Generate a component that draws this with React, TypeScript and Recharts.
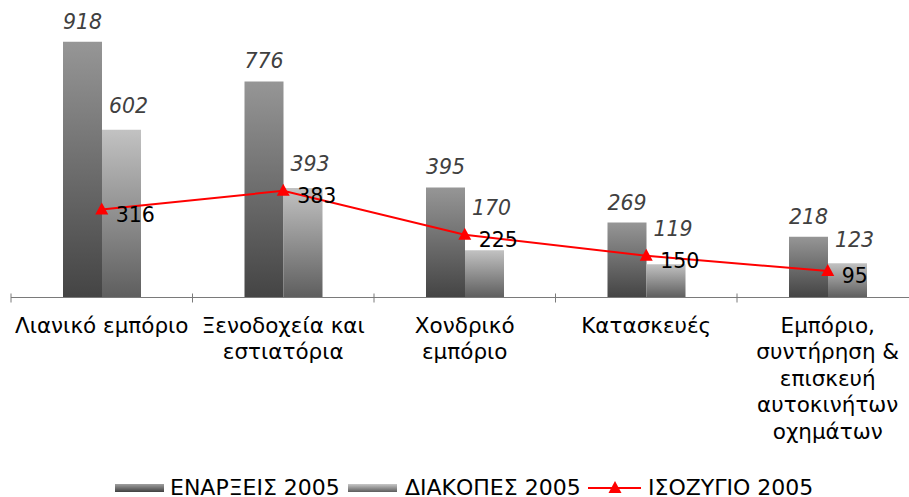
import React from 'react';
import { ComposedChart, Bar, Line, XAxis, YAxis, LabelList, Legend } from 'recharts';

const categories = [
  'Λιανικό εμπόριο',
  'Ξενοδοχεία και εστιατόρια',
  'Χονδρικό εμπόριο',
  'Κατασκευές',
  'Εμπόριο, συντήρηση & επισκευή αυτοκινήτων οχημάτων',
];
const categoryLines = [
  ['Λιανικό εμπόριο'],
  ['Ξενοδοχεία και', 'εστιατόρια'],
  ['Χονδρικό', 'εμπόριο'],
  ['Κατασκευές'],
  ['Εμπόριο,', 'συντήρηση &', 'επισκευή', 'αυτοκινήτων', 'οχημάτων'],
];
const enarxeis = [918, 776, 395, 269, 218];
const diakopes = [602, 393, 170, 119, 123];
const isozygio = [316, 383, 225, 150, 95];
const seriesNames = ['ΕΝΑΡΞΕΙΣ 2005', 'ΔΙΑΚΟΠΕΣ 2005', 'ΙΣΟΖΥΓΙΟ 2005'];

const data = categories.map((c, i) => ({
  name: c,
  enarxeis: enarxeis[i],
  diakopes: diakopes[i],
  isozygio: isozygio[i],
}));

const FONT = '"DejaVu Sans", Verdana, sans-serif';
const CHART_W = 920;
const CHART_H = 497;
const M_LEFT = 11;
const M_RIGHT = 1.5;
const BAND = (CHART_W - M_LEFT - M_RIGHT) / categories.length;
const AXIS_COLOR = '#7a7a7a';
const NUM_SIZE = 20.5;

const Triangle = (props: any) => {
  const { cx, cy } = props;
  if (cx == null || cy == null) return null;
  return (
    <polygon
      points={`${cx},${cy - 7} ${cx - 6.5},${cy + 5} ${cx + 6.5},${cy + 5}`}
      fill="#FF0000"
      stroke="none"
    />
  );
};

// Label for the second bar series: sits above its bar, but is lifted
// above the balance line's point when that point would collide with it.
const DiakopesLabel = (props: any) => {
  const { x, y, width, height, value, index } = props;
  if (x == null || y == null || !value) return null;
  const base = y + height;
  const pxPerUnit = height / value;
  const lineY = base - isozygio[index] * pxPerUnit;
  const center = Math.min(y - 24, lineY - 27);
  return (
    <text
      x={x + width / 2 + 7}
      y={center + 7.5}
      textAnchor="middle"
      fontFamily={FONT}
      fontSize={NUM_SIZE}
      fontStyle="italic"
      fill="#404040"
    >
      {value}
    </text>
  );
};

const CategoryTick = (props: any) => {
  const { x, y, payload, index } = props;
  const idx = categories.indexOf(payload.value);
  const lines = categoryLines[idx >= 0 ? idx : index] || [String(payload.value)];
  const last = idx === categories.length - 1;
  return (
    <g>
      <line x1={x - BAND / 2} x2={x - BAND / 2} y1={y - 4} y2={y + 5} stroke={AXIS_COLOR} strokeWidth={1} />
      {last && (
        <line x1={x + BAND / 2} x2={x + BAND / 2} y1={y - 4} y2={y + 5} stroke={AXIS_COLOR} strokeWidth={1} />
      )}
      {lines.map((ln, i) => (
        <text
          key={i}
          x={x}
          y={y + 35 + i * 26.5}
          textAnchor="middle"
          fontFamily={FONT}
          fontSize={21.5}
          fill="#000"
        >
          {ln}
        </text>
      ))}
    </g>
  );
};

const CustomLegend = () => (
  <svg width={909} height={24} style={{ display: 'block' }}>
    <defs>
      <linearGradient id="legEn" x1="0" y1="0" x2="0" y2="1">
        <stop offset="0" stopColor="#a0a0a0" />
        <stop offset="1" stopColor="#404040" />
      </linearGradient>
      <linearGradient id="legDi" x1="0" y1="0" x2="0" y2="1">
        <stop offset="0" stopColor="#c8c8c8" />
        <stop offset="1" stopColor="#5c5c5c" />
      </linearGradient>
    </defs>
    <rect x={115} y={11} width={49} height={8} fill="url(#legEn)" />
    <text x={170} y={21.5} fontFamily={FONT} fontSize={22} fill="#000">{seriesNames[0]}</text>
    <rect x={348} y={11} width={49} height={8} fill="url(#legDi)" />
    <text x={405} y={21.5} fontFamily={FONT} fontSize={22} fill="#000">{seriesNames[1]}</text>
    <line x1={588} x2={641} y1={15} y2={15} stroke="#FF0000" strokeWidth={2} />
    <polygon points={`615,8 608.5,20 621.5,20`} fill="#FF0000" />
    <text x={648} y={21.5} fontFamily={FONT} fontSize={22} fill="#000">{seriesNames[2]}</text>
  </svg>
);

export default function App() {
  return (
    <div
      style={{
        position: 'absolute',
        left: 0,
        top: 0,
        width: 909,
        height: 497,
        overflow: 'hidden',
        background: '#fff',
        fontFamily: FONT,
      }}
    >
      <ComposedChart
        width={CHART_W}
        height={CHART_H}
        data={data}
        margin={{ top: 19, right: M_RIGHT, left: M_LEFT, bottom: 0 }}
        barGap={0}
        barSize={39}
        style={{ fontFamily: FONT }}
      >
        <defs>
          <linearGradient id="gEn" x1="0" y1="0" x2="0" y2="1">
            <stop offset="0" stopColor="#969696" />
            <stop offset="1" stopColor="#444444" />
          </linearGradient>
          <linearGradient id="gDi" x1="0" y1="0" x2="0" y2="1">
            <stop offset="0" stopColor="#c2c2c2" />
            <stop offset="1" stopColor="#5e5e5e" />
          </linearGradient>
        </defs>
        <XAxis
          dataKey="name"
          type="category"
          interval={0}
          height={175.5}
          tickSize={0}
          tickMargin={0}
          tickLine={false}
          axisLine={{ stroke: AXIS_COLOR, strokeWidth: 1 }}
          tick={<CategoryTick />}
        />
        <YAxis hide domain={[0, 1000]} />
        <Legend
          verticalAlign="bottom"
          height={24}
          content={<CustomLegend />}
          wrapperStyle={{ left: 0, width: 909 }}
        />
        <Bar dataKey="enarxeis" name={seriesNames[0]} fill="url(#gEn)" isAnimationActive={false}>
          <LabelList
            dataKey="enarxeis"
            position="top"
            offset={13}
            fill="#404040"
            fontStyle="italic"
            fontSize={NUM_SIZE}
            fontFamily={FONT}
          />
        </Bar>
        <Bar dataKey="diakopes" name={seriesNames[1]} fill="url(#gDi)" isAnimationActive={false}>
          <LabelList dataKey="diakopes" content={<DiakopesLabel />} />
        </Bar>
        <Line
          dataKey="isozygio"
          name={seriesNames[2]}
          type="linear"
          stroke="#FF0000"
          strokeWidth={2}
          dot={<Triangle />}
          activeDot={false}
          isAnimationActive={false}
        >
          <LabelList
            dataKey="isozygio"
            position="right"
            offset={14}
            dy={5}
            fill="#000"
            fontSize={NUM_SIZE}
            fontFamily={FONT}
          />
        </Line>
      </ComposedChart>
    </div>
  );
}
